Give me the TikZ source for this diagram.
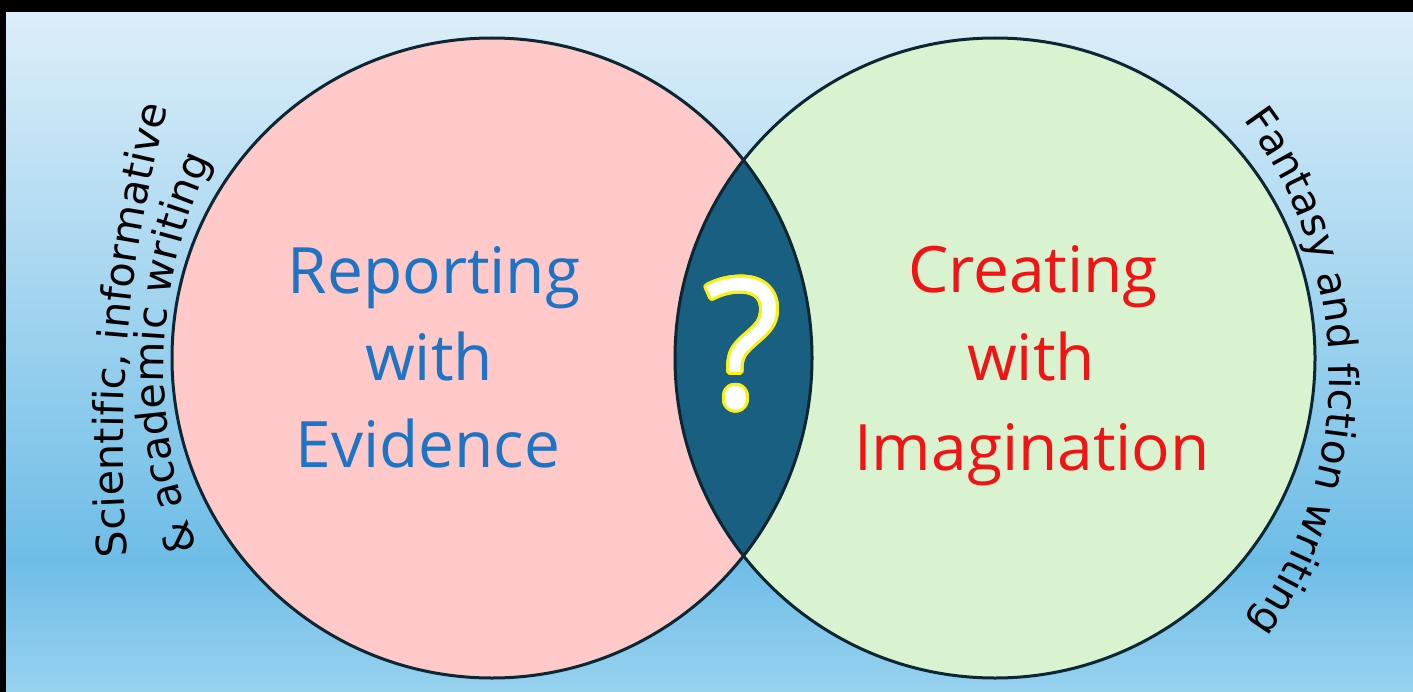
\documentclass[tikz,border=0pt]{standalone}
\usepackage{fontspec}
\setmainfont{Open Sans}
\newfontfamily\arcfont{DejaVu Sans}
\usetikzlibrary{decorations.text,calc}
\definecolor{bgtop}{RGB}{220,238,249}
\definecolor{bgmid}{RGB}{110,189,231}
\definecolor{bgbot}{RGB}{152,210,239}
\definecolor{pinkfill}{RGB}{255,201,201}
\definecolor{greenfill}{RGB}{217,242,208}
\definecolor{lensfill}{RGB}{25,95,130}
\definecolor{rim}{RGB}{12,38,50}
\definecolor{bluetext}{RGB}{30,116,196}
\definecolor{redtext}{RGB}{240,20,20}
\definecolor{qyellow}{RGB}{250,240,20}
\begin{document}
\begin{tikzpicture}[x=0.75pt,y=0.75pt,
  rimline/.style={draw=rim,line width=2.25pt},
  bigtext/.style={anchor=base,inner sep=0pt,font=\fontsize{48}{58}\selectfont},
  qmark/.style={inner sep=0pt,font=\fontsize{134}{150}\selectfont}
]
\useasboundingbox (0,0) rectangle (1413,-692);
% background
\fill[black] (0,0) rectangle (1413,-692);
\shade[top color=bgtop,bottom color=bgmid] (6,-13) rectangle (1413,-560);
\shade[top color=bgmid,bottom color=bgbot] (6,-560) rectangle (1413,-692);
% circles
\fill[pinkfill] (492,-358) circle[radius=320];
\fill[greenfill] (995,-358) circle[radius=320];
\begin{scope}
  \clip (492,-358) circle[radius=320];
  \fill[lensfill] (995,-358) circle[radius=320];
\end{scope}
\draw[rimline] (492,-358) circle[radius=320];
\draw[rimline] (995,-358) circle[radius=320];
% main texts
\node[bigtext,text=bluetext] (rep) at (434,-293) {Reporting};
\node[bigtext,text=bluetext] (rwith) at (429,-380) {with};
\node[bigtext,text=bluetext] (evid) at (428,-467) {Evidence};
\node[bigtext,text=redtext] (cre) at (1033,-292) {Creating};
\node[bigtext,text=redtext] (cwith) at (1031,-380) {with};
\node[bigtext,text=redtext] (imag) at (1032,-470) {Imagination};
% question mark
\foreach \a [count=\i] in {0,22.5,...,337.5}
  \node[qmark,text=qyellow] (qs\i) at ($(743,-344)+(\a:3)$) {?};
\node[qmark,text=white] (q) at (743,-344) {?};
% curved texts
\path[decorate,decoration={text along path,text align=center,
  text={|\arcfont\fontsize{31}{37}\selectfont|Scientific{,} informative}}]
  (1403,-445) ++(194.85:1280) arc[start angle=194.85,end angle=154.85,radius=1280];
\path[decorate,decoration={text along path,text align=center,
  text={|\arcfont\fontsize{31}{37}\selectfont|{\&} academic writing}}]
  (654,-370) ++(208:490) arc[start angle=208,end angle=148,radius=490];
\path[decorate,decoration={text along path,text align=center,
  text={|\arcfont\fontsize{30.5}{37}\selectfont|Fantasy and fiction writing}}]
  (903,-376) ++(60.65:426) arc[start angle=60.65,end angle=-59.35,radius=426];
\end{tikzpicture}
\end{document}
